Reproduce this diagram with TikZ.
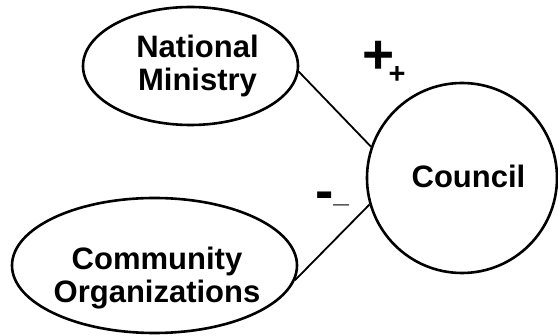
\documentclass[tikz,border=0pt]{standalone}
\usepackage{fontspec}
\setmainfont{Liberation Sans}
\usetikzlibrary{shapes.geometric}
\begin{document}
\begin{tikzpicture}[x=1pt,y=-1pt,
  actor/.style={draw,ellipse,line width=2.6pt,inner sep=0pt},
  hub/.style={draw,circle,line width=2.6pt,inner sep=0pt,minimum size=190pt},
  caption/.style={align=center,inner sep=0pt,font=\fontsize{31}{33}\selectfont\bfseries},
  tie/.style={line width=1.8pt},
  sign/.style={inner sep=0pt,anchor=base west,font=\fontsize{55}{55}\selectfont\bfseries}]
  \useasboundingbox (0,0) rectangle (558,336);

  % actors and the council
  \node[actor,minimum width=215pt,minimum height=118pt] (nm) at (190.5,66) {};
  \node[actor,minimum width=285pt,minimum height=135pt] (co) at (154.5,265.5) {};
  \node[hub] (council) at (462,178) {};

  % names
  \node[caption] (nmtext) at (197.5,65.7) {National\\Ministry};
  \node[caption] (cotext) at (157,277.8) {Community\\Organizations};
  \node[caption] (counciltext) at (468.5,176) {Council};

  % ties
  \draw[tie] (nm.-3.7) -- (council.161);
  \draw[tie] (co.-6) -- (council.196.8);

  % signs of the ties, each a large sign with a small subscript copy
  \node[sign] (plus) at (362,74)
    {+\kern-5.6pt\raisebox{-10pt}{\fontsize{29}{29}\selectfont +}};
  \node[sign] (minus) at (315.3,210)
    {-\kern-0.5pt\raisebox{7.5pt}{\fontsize{28}{28}\selectfont \_}};
\end{tikzpicture}
\end{document}
